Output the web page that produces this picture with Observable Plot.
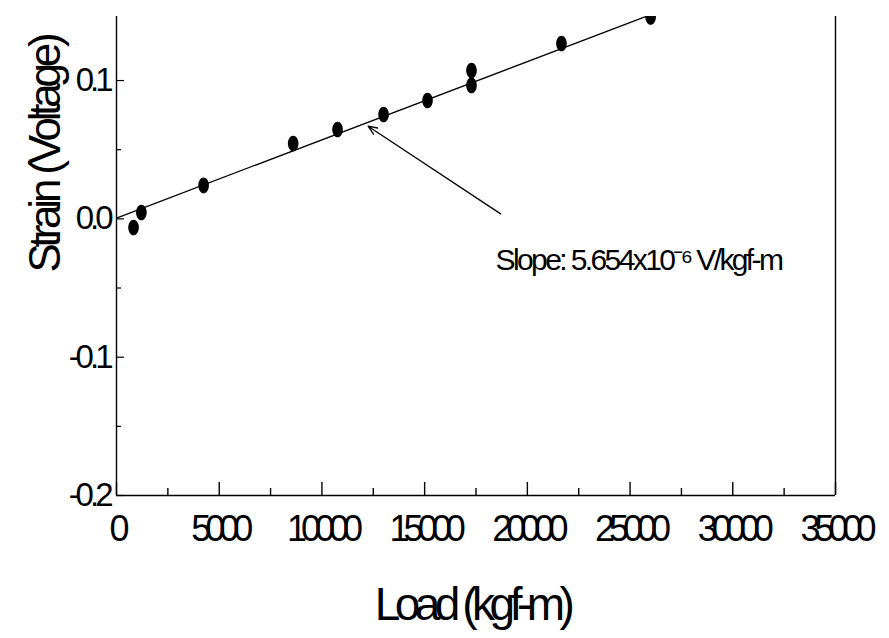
<!DOCTYPE html>
<html>
<head>
<meta charset="utf-8">
<script src="https://cdn.jsdelivr.net/npm/d3@7"></script>
<script src="https://cdn.jsdelivr.net/npm/@observablehq/plot@0.6"></script>
<style>
  html, body { margin: 0; padding: 0; background: #fff; }
  #chart svg { display: block; }
  g[aria-label="x-axis tick label"] text { letter-spacing: -6px; }
  g[aria-label="y-axis tick label"] text { letter-spacing: -4px; }
</style>
</head>
<body>
<div id="chart"></div>
<script>
// Measured points: Load (kgf-m) vs Strain (Voltage)
const loads    = [830, 1210, 4240, 8600, 10760, 13000, 15140, 17280, 17280, 21660, 26000];
const strains  = [-0.0062, 0.0046, 0.0242, 0.0545, 0.0646, 0.0755, 0.0856, 0.1073, 0.0965, 0.1268, 0.146];

// Fitted line end points
const fitLoads   = [0, 26600];
const fitStrains = [0.0006, 0.1510];

// Arrow (tail -> head) and annotation
const arrowFrom = [18700, 0.0036];
const arrowTo   = [12250, 0.0670];
const slopeText = "Slope: 5.654x10⁻⁶ V/kgf-m";
const slopeAt   = [18450, -0.0297];

// Axes
const xTicks      = [0, 5000, 10000, 15000, 20000, 25000, 30000, 35000];
const xMinorTicks = [2500, 7500, 12500, 17500, 22500, 27500, 32500];
const yTicks      = [-0.2, -0.1, 0.0, 0.1];
const yTickLabels = ["-0.2", "-0.1", "0.0", "0.1"];
const yMinorTicks = [-0.15, -0.05, 0.05];
const xLabel = "Load (kgf-m)";
const yLabel = "Strain (Voltage)";

const points = loads.map((x, i) => ({x, y: strains[i]}));
const fit = fitLoads.map((x, i) => ({x, y: fitStrains[i]}));

const W = 889, H = 638;
const mTop = 16, mLeft = 116, mRight = 54, mBottom = 143;
const frameW = W - mLeft - mRight, frameH = H - mTop - mBottom;

const ellipse = {
  draw(context, size) {
    const r = Math.sqrt(size / Math.PI);
    const rx = r * 0.68, ry = r, k = 0.5523;
    context.moveTo(rx, 0);
    context.bezierCurveTo(rx, k * ry, k * rx, ry, 0, ry);
    context.bezierCurveTo(-k * rx, ry, -rx, k * ry, -rx, 0);
    context.bezierCurveTo(-rx, -k * ry, -k * rx, -ry, 0, -ry);
    context.bezierCurveTo(k * rx, -ry, rx, -k * ry, rx, 0);
    context.closePath();
  }
};

const font = "'Liberation Sans', Arial, Helvetica, sans-serif";

const chart = Plot.plot({
  width: W,
  height: H,
  marginTop: mTop,
  marginLeft: mLeft,
  marginRight: mRight,
  marginBottom: mBottom,
  style: {fontFamily: font, color: "#000", background: "#fff"},
  x: {domain: [0, 35000]},
  y: {domain: [-0.2, 0.1463]},
  marks: [
    // spines
    Plot.ruleX([0], {stroke: "#000", strokeWidth: 1.4}),
    Plot.ruleX([35000], {stroke: "#000", strokeWidth: 1.4}),
    Plot.ruleY([-0.2], {stroke: "#000", strokeWidth: 1.4}),
    // inward ticks
    Plot.tickX(xTicks, {x: d => d, insetTop: frameH - 13, stroke: "#000", strokeWidth: 1.4}),
    Plot.tickX(xMinorTicks, {x: d => d, insetTop: frameH - 7, stroke: "#000", strokeWidth: 1.4}),
    Plot.tickY(yTicks, {y: d => d, insetRight: frameW - 8, stroke: "#000", strokeWidth: 1.2}),
    Plot.tickY(yMinorTicks, {y: d => d, insetRight: frameW - 5, stroke: "#000", strokeWidth: 1.2}),
    // tick labels
    Plot.axisX(xTicks, {tickSize: 0, tickPadding: 20, fontSize: 36, label: null, tickFormat: d => String(d)}),
    Plot.axisY(yTicks, {tickSize: 0, tickPadding: 7, fontSize: 33, label: null,
      tickFormat: d => yTickLabels[yTicks.indexOf(d)]}),
    // fitted line
    Plot.line(fit, {x: "x", y: "y", stroke: "#000", strokeWidth: 1.3, clip: true}),
    // data points
    Plot.dot(points, {x: "x", y: "y", r: 7.8, symbol: ellipse, fill: "#000", stroke: null, clip: true}),
    // arrow
    Plot.arrow([{x1: arrowFrom[0], y1: arrowFrom[1], x2: arrowTo[0], y2: arrowTo[1]}],
      {x1: "x1", y1: "y1", x2: "x2", y2: "y2", stroke: "#000", strokeWidth: 1.3, headLength: 11, headAngle: 45}),
    // slope annotation
    Plot.text([slopeText], {x: slopeAt[0], y: slopeAt[1], text: d => d, textAnchor: "start",
      fontSize: 30, fill: "#000"}),
    // axis titles
    Plot.text([xLabel], {frameAnchor: "bottom", dy: 110, lineAnchor: "middle", textAnchor: "middle",
      text: d => d, fontSize: 46, fill: "#000", dx: -4}),
    Plot.text([yLabel], {frameAnchor: "top-left", dx: -71, dy: 138, rotate: -90,
      textAnchor: "middle", lineAnchor: "middle", text: d => d, fontSize: 44, fill: "#000"})
  ]
});

// condensed lettering, like the scanned original
const spacing = new Map([[xLabel, "-5.5px"], [yLabel, "-4.2px"], [slopeText, "-2.6px"]]);
d3.select(chart).selectAll("text").each(function () {
  const s = spacing.get(this.textContent);
  if (s) this.style.letterSpacing = s;
});

document.getElementById("chart").appendChild(chart);
</script>
</body>
</html>
